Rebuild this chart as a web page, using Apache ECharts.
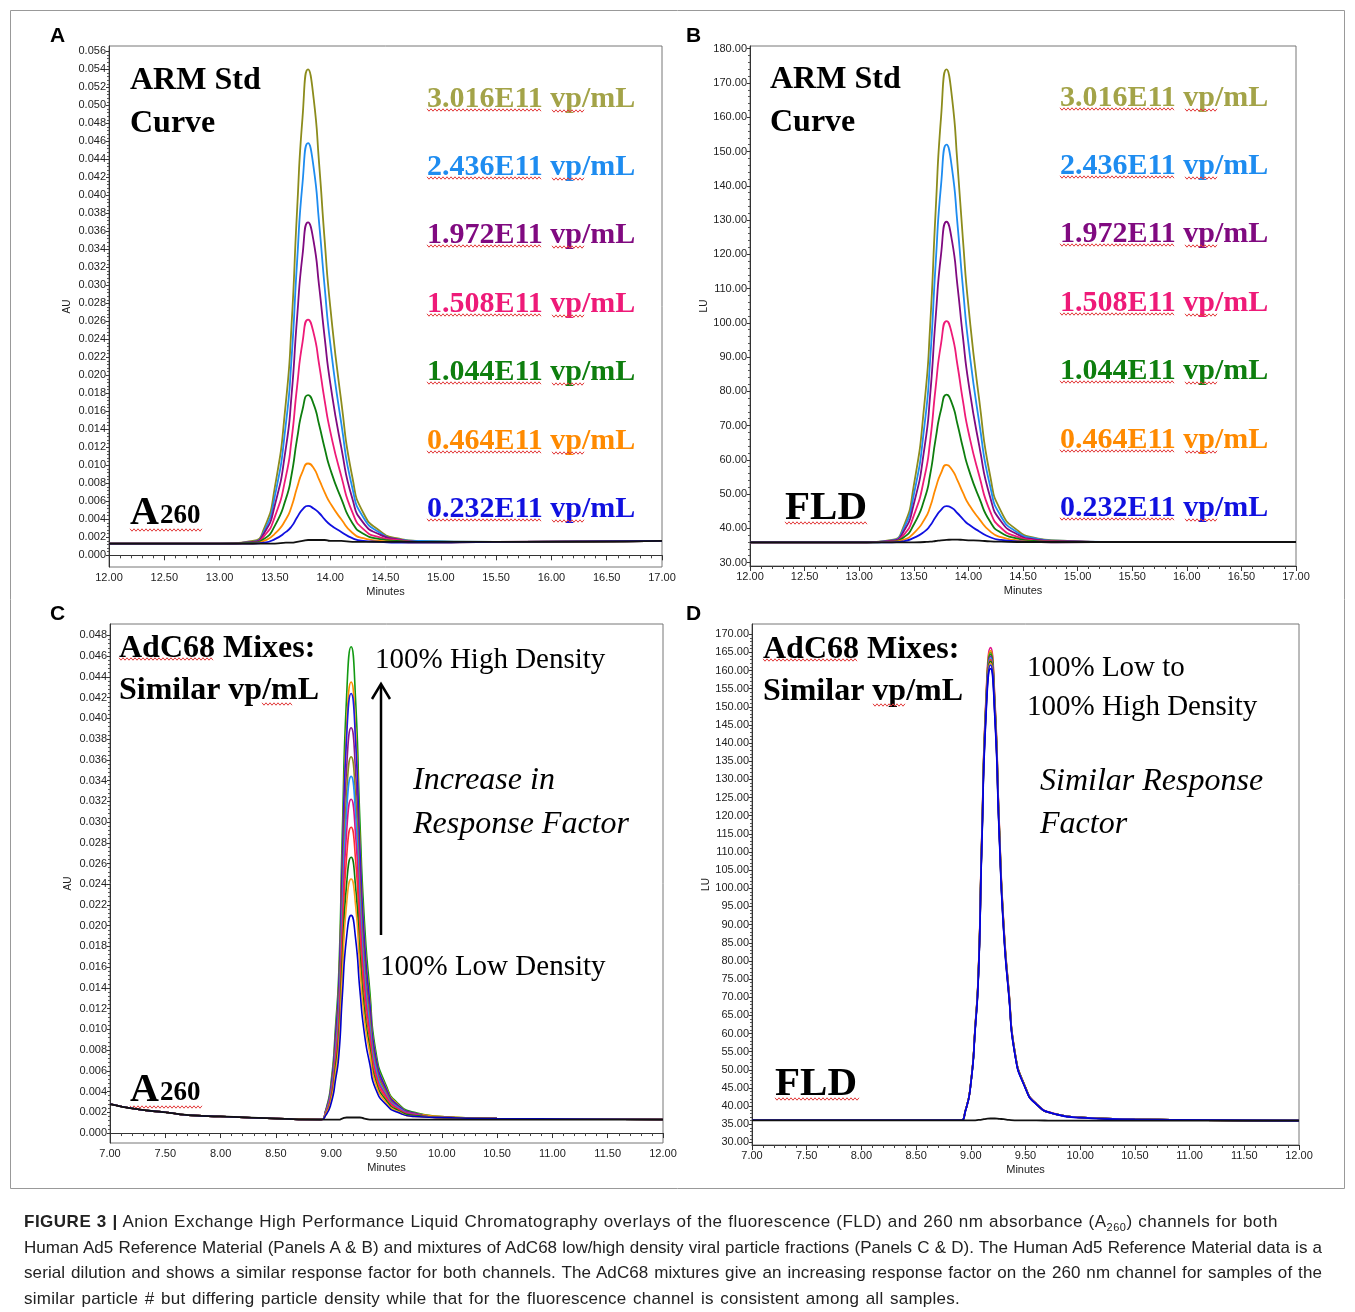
<!doctype html>
<html>
<head>
<meta charset="utf-8">
<title>Figure 3</title>
<script src="https://cdn.jsdelivr.net/npm/echarts@6/dist/echarts.min.js"></script>
<style>
  body { margin: 0; background: #fff; }
  #wrap { position: relative; width: 1355px; height: 1312px; }
  #chart { position: absolute; left: 0; top: 0; width: 1355px; height: 1312px; }
  #caption { position: absolute; left: 24px; top: 1209px; font-family: "Liberation Sans", Arial, sans-serif;
             font-size: 17px; line-height: 25.6px; color: #222; }
  #caption div { white-space: nowrap; text-align: justify; text-align-last: justify; height: 25.6px; }
  #caption sub { font-size: 11px; line-height: 0; vertical-align: baseline; position: relative; top: 4px; }
</style>
</head>
<body>
<div id="wrap">
  <div id="chart"></div>
  <div id="caption">
    <div style="width:1254px;letter-spacing:0.5px"><b>FIGURE 3 |</b> Anion Exchange High Performance Liquid Chromatography overlays of the fluorescence (FLD) and 260 nm absorbance (A<sub>260</sub>) channels for both</div>
    <div style="width:1298px;letter-spacing:0px">Human Ad5 Reference Material (Panels A &amp; B) and mixtures of AdC68 low/high density viral particle fractions (Panels C &amp; D). The Human Ad5 Reference Material data is a</div>
    <div style="width:1298px;letter-spacing:0.1px">serial dilution and shows a similar response factor for both channels. The AdC68 mixtures give an increasing response factor on the 260 nm channel for samples of the</div>
    <div style="width:936px;letter-spacing:0.25px">similar particle # but differing particle density while that for the fluorescence channel is consistent among all samples.</div>
  </div>
</div>
<script>
// ---- panel A / B : ARM standard curve (retention time in minutes) ----
var tA = [12.00, 13.00, 13.30, 13.40, 13.50, 13.60, 13.65, 13.70, 13.75, 13.80, 13.85,
          13.90, 13.95, 14.00, 14.10, 14.20, 14.30, 14.45, 14.60, 14.80, 15.50, 17.00];

var A_olive  = [.0013,.0013,.0016,.0029,.0076,.0171,.0255,.0382,.0487,.0540,.0508,.0435,.0350,.0277,.0171,.0087,.0047,.0027,.0019,.0016,.0015,.0016];
var A_lblue  = [.0013,.0013,.0015,.0026,.0066,.0147,.0218,.0325,.0414,.0458,.0431,.0369,.0298,.0236,.0147,.0075,.0042,.0025,.0018,.0016,.0015,.0016];
var A_purple = [.0013,.0013,.0015,.0024,.0056,.0120,.0177,.0263,.0334,.0370,.0349,.0299,.0242,.0192,.0120,.0063,.0036,.0023,.0018,.0015,.0015,.0016];
var A_pink   = [.0013,.0013,.0014,.0021,.0043,.0088,.0128,.0187,.0237,.0262,.0247,.0212,.0172,.0138,.0088,.0048,.0029,.0020,.0017,.0015,.0015,.0016];
var A_green  = [.0013,.0013,.0014,.0018,.0033,.0063,.0089,.0129,.0162,.0178,.0168,.0145,.0119,.0096,.0063,.0036,.0024,.0018,.0016,.0015,.0015,.0016];
var A_orange = [.0013,.0013,.0013,.0016,.0024,.0040,.0054,.0075,.0093,.0102,.0097,.0084,.0070,.0058,.0040,.0025,.0019,.0016,.0015,.0014,.0015,.0016];
var A_blue   = [.0013,.0013,.0013,.0014,.0018,.0026,.0032,.0042,.0051,.0055,.0052,.0047,.0040,.0034,.0026,.0019,.0016,.0015,.0014,.0014,.0015,.0016];
var A_black  = [.0013,.0013,.0013,.0013,.0013,.0014,.0014,.0015,.0016,.0017,.0017,.0017,.0017,.0016,.0016,.0015,.0015,.0015,.0015,.0015,.0015,.0016];

var B_olive  = [35.9,35.9,36.6,40.0,52.5,77.3,99.4,132.6,160.2,174.0,165.7,146.4,124.3,105.0,77.3,55.2,44.9,39.4,37.3,36.5,36.0,36.0];
var B_lblue  = [35.9,35.9,36.5,39.4,49.8,70.7,89.3,117.2,140.4,152.0,145.0,128.8,110.2,94.0,70.7,52.2,43.4,38.8,37.1,36.4,36.0,36.0];
var B_purple = [35.9,35.9,36.4,38.7,47.1,64.0,79.0,101.4,120.1,129.5,123.9,110.8,95.8,82.7,64.0,49.0,42.0,38.2,36.8,36.3,36.0,36.0];
var B_pink   = [35.9,35.9,36.2,37.8,43.7,55.3,65.6,81.1,94.0,100.5,96.6,87.6,77.2,68.2,55.3,44.9,40.1,37.5,36.5,36.2,36.0,36.0];
var B_green  = [35.9,35.9,36.1,37.2,41.1,48.8,55.7,66.1,74.7,79.0,76.4,70.4,63.5,57.5,48.8,41.9,38.7,37.0,36.3,36.1,36.0,36.0];
var B_orange = [35.9,35.9,36.0,36.6,38.6,42.7,46.3,51.7,56.2,58.5,57.1,54.0,50.4,47.2,42.7,39.1,37.4,36.5,36.0,35.9,36.0,36.0];
var B_blue   = [35.9,35.9,35.9,36.2,37.2,39.1,40.8,43.3,45.4,46.5,45.9,44.4,42.7,41.2,39.1,37.4,36.6,36.2,36.0,35.9,36.0,36.0];
var B_black  = [35.9,35.9,35.9,35.9,35.9,36.0,36.1,36.3,36.5,36.6,36.7,36.7,36.6,36.5,36.4,36.2,36.1,36.0,36.0,36.0,36.0,36.0];

var stdLabels = ['3.016E11 vp/mL', '2.436E11 vp/mL', '1.972E11 vp/mL', '1.508E11 vp/mL',
                 '1.044E11 vp/mL', '0.464E11 vp/mL', '0.232E11 vp/mL'];
var stdColors = ['#8c8c1c', '#1e8cf0', '#800a80', '#ee1a78', '#0e7e0e', '#ff8a00', '#1010e0'];
var stdLabelColors = ['#a3a348', '#1e8cf0', '#800a80', '#ee1a78', '#0e7e0e', '#ff8a00', '#1010e0'];

// ---- panel C / D : AdC68 mixes ----
var tC = [7.00, 7.25, 7.50, 7.75, 8.00, 8.50, 8.90, 8.95, 9.00, 9.04, 9.07, 9.10, 9.14,
          9.18, 9.22, 9.26, 9.30, 9.35, 9.40, 9.50, 9.60, 9.75, 10.00, 10.50, 12.00];

var C_1  = [.0028,.0023,.0020,.0017,.0016,.0014,.0013,.0022,.0050,.0104,.0159,.0287,.0423,.0469,.0419,.0300,.0205,.0136,.0081,.0045,.0029,.0020,.0016,.0014,.0013];
var C_2  = [.0028,.0023,.0020,.0017,.0016,.0014,.0013,.0021,.0047,.0097,.0148,.0266,.0393,.0435,.0389,.0279,.0190,.0127,.0076,.0043,.0028,.0019,.0016,.0014,.0013];
var C_3  = [.0028,.0023,.0020,.0017,.0016,.0014,.0013,.0021,.0046,.0095,.0145,.0260,.0383,.0424,.0379,.0272,.0186,.0124,.0075,.0042,.0027,.0019,.0015,.0014,.0013];
var C_4  = [.0028,.0023,.0020,.0017,.0016,.0014,.0013,.0021,.0043,.0089,.0134,.0240,.0353,.0391,.0349,.0251,.0172,.0115,.0070,.0040,.0026,.0019,.0015,.0014,.0013];
var C_5  = [.0028,.0023,.0020,.0017,.0016,.0014,.0013,.0020,.0041,.0083,.0125,.0223,.0328,.0363,.0325,.0234,.0160,.0108,.0066,.0038,.0025,.0018,.0015,.0014,.0013];
var C_6  = [.0028,.0023,.0020,.0017,.0016,.0014,.0013,.0020,.0040,.0079,.0119,.0212,.0311,.0344,.0308,.0222,.0152,.0102,.0063,.0036,.0025,.0018,.0015,.0014,.0013];
var C_7  = [.0028,.0023,.0020,.0017,.0016,.0014,.0013,.0019,.0038,.0075,.0112,.0198,.0291,.0322,.0288,.0208,.0143,.0096,.0059,.0035,.0024,.0018,.0015,.0014,.0013];
var C_8  = [.0028,.0023,.0020,.0017,.0016,.0014,.0013,.0019,.0036,.0069,.0103,.0182,.0267,.0295,.0264,.0191,.0131,.0089,.0055,.0033,.0023,.0017,.0015,.0014,.0013];
var C_9  = [.0028,.0023,.0020,.0017,.0016,.0014,.0013,.0018,.0033,.0064,.0094,.0165,.0241,.0266,.0238,.0172,.0119,.0081,.0051,.0031,.0022,.0017,.0015,.0014,.0013];
var C_10 = [.0028,.0023,.0020,.0017,.0016,.0014,.0013,.0018,.0032,.0059,.0087,.0152,.0222,.0245,.0220,.0159,.0110,.0076,.0048,.0029,.0021,.0016,.0015,.0014,.0013];
var C_11 = [.0028,.0023,.0020,.0017,.0016,.0014,.0013,.0017,.0029,.0052,.0076,.0131,.0190,.0210,.0188,.0137,.0096,.0066,.0043,.0027,.0020,.0016,.0015,.0014,.0013];
var C_black = [.0028,.0023,.0020,.0017,.0016,.0014,.0013,.0013,.0013,.0013,.0013,.0014,.0015,.0015,.0015,.0015,.0014,.0013,.0013,.0013,.0013,.0013,.0013,.0013,.0013];

var D_1  = [36.1,36.1,36.1,36.1,36.1,36.1,36.1,38.7,46.5,62.1,77.8,114.2,153.3,166.3,152.0,118.1,90.8,71.3,55.6,45.2,40.7,38.1,36.9,36.4,36.0];
var D_2  = [36.1,36.1,36.1,36.1,36.1,36.1,36.1,38.7,46.5,62.0,77.5,113.7,152.6,165.5,151.3,117.6,90.4,71.0,55.5,45.2,40.6,38.0,36.9,36.4,36.0];
var D_3  = [36.1,36.1,36.1,36.1,36.1,36.1,36.1,38.7,46.4,61.9,77.3,113.4,152.1,165.0,150.8,117.3,90.2,70.9,55.4,45.1,40.6,38.0,36.9,36.4,36.0];
var D_4  = [36.1,36.1,36.1,36.1,36.1,36.1,36.1,38.7,46.4,61.8,77.2,113.1,151.7,164.5,150.4,117.0,90.0,70.8,55.4,45.1,40.6,38.0,36.9,36.4,36.0];
var D_5  = [36.1,36.1,36.1,36.1,36.1,36.1,36.1,38.7,46.3,61.7,77.0,112.8,151.2,164.0,149.9,116.7,89.8,70.6,55.3,45.1,40.6,38.0,36.9,36.4,36.0];
var D_6  = [36.1,36.1,36.1,36.1,36.1,36.1,36.1,38.6,46.3,61.6,76.9,112.5,150.8,163.5,149.5,116.4,89.6,70.5,55.2,45.0,40.6,38.0,36.9,36.4,36.0];
var D_7  = [36.1,36.1,36.1,36.1,36.1,36.1,36.1,38.6,46.3,61.5,76.7,112.2,150.3,163.0,149.0,116.0,89.4,70.4,55.1,45.0,40.5,38.0,36.9,36.4,36.0];
var D_8  = [36.1,36.1,36.1,36.1,36.1,36.1,36.1,38.6,46.2,61.4,76.5,111.9,149.9,162.5,148.6,115.7,89.2,70.2,55.1,45.0,40.5,38.0,36.9,36.4,36.0];
var D_9  = [36.1,36.1,36.1,36.1,36.1,36.1,36.1,38.6,46.2,61.3,76.4,111.6,149.4,162.0,148.1,115.4,89.0,70.1,55.0,44.9,40.5,38.0,36.9,36.4,36.0];
var D_10 = [36.1,36.1,36.1,36.1,36.1,36.1,36.1,38.6,46.1,61.2,76.2,111.3,149.0,161.5,147.7,115.1,88.8,70.0,54.9,44.9,40.5,38.0,36.9,36.4,36.0];
var D_11 = [36.1,36.1,36.1,36.1,36.1,36.1,36.1,38.6,46.1,61.0,75.9,110.7,148.1,160.5,146.8,114.5,88.4,69.7,54.8,44.8,40.5,38.0,36.8,36.3,36.0];
var D_black = [36.1,36.1,36.1,36.1,36.1,36.1,36.1,36.1,36.1,36.1,36.2,36.3,36.5,36.6,36.6,36.5,36.4,36.2,36.1,36.1,36.1,36.0,36.0,36.0,36.0];

var mixColorsC = ['#129a12', '#ff8c00', '#1a1ae6', '#8b1a8b', '#8c8c1c', '#1e90ff',
                  '#d4148c', '#ff3030', '#0b7a0b', '#ff9f1a', '#0000cc'];
var mixColorsD = ['#e0168c', '#ff8c00', '#8c8c1c', '#129a12', '#8b1a8b', '#1e90ff',
                  '#ff3030', '#0b7a0b', '#ff9f1a', '#1a1ae6', '#0000dd'];

// tick labels
var yTicksA = [0, 0.002, 0.004, 0.006, 0.008, 0.010, 0.012, 0.014, 0.016, 0.018, 0.020, 0.022, 0.024, 0.026,
               0.028, 0.030, 0.032, 0.034, 0.036, 0.038, 0.040, 0.042, 0.044, 0.046, 0.048, 0.050, 0.052, 0.054, 0.056];
var yTicksB = [30, 40, 50, 60, 70, 80, 90, 100, 110, 120, 130, 140, 150, 160, 170, 180];
var yTicksC = [0, 0.002, 0.004, 0.006, 0.008, 0.010, 0.012, 0.014, 0.016, 0.018, 0.020, 0.022, 0.024,
               0.026, 0.028, 0.030, 0.032, 0.034, 0.036, 0.038, 0.040, 0.042, 0.044, 0.046, 0.048];
var yTicksD = [30, 35, 40, 45, 50, 55, 60, 65, 70, 75, 80, 85, 90, 95, 100, 105, 110, 115, 120,
               125, 130, 135, 140, 145, 150, 155, 160, 165, 170];

var myChart = echarts.init(document.getElementById('chart'), null, {renderer: 'canvas'});

var tickFont = 'Liberation Sans';
var serif = '"Liberation Serif", "DejaVu Serif", serif';

// minor ticks between the major labels
function minorTicks(list, parts) {
    var out = [];
    var step = (list[1] - list[0]) / parts;
    for (var i = 0; i < list.length - 1; i++) {
        for (var k = 1; k < parts; k++) out.push(list[i] + step * k);
    }
    return out;
}

var grids = [
    {left: 109, top: 46, width: 553, height: 521},
    {left: 750, top: 46, width: 546, height: 520},
    {left: 110, top: 624, width: 553, height: 519},
    {left: 752, top: 624, width: 547, height: 521}
];
grids.forEach(function (g) { g.show = true; g.borderColor = '#777'; g.borderWidth = 1; });

function xAxisFor(gi, min, max) {
    return {
        gridIndex: gi, type: 'value', min: min, max: max, interval: 0.5,
        axisLine: {lineStyle: {color: '#333'}},
        axisTick: {length: 5, lineStyle: {color: '#333'}},
        minorTick: {show: true, splitNumber: 5, length: 3, lineStyle: {color: '#444'}},
        splitLine: {show: false}, minorSplitLine: {show: false},
        axisLabel: {formatter: function (v) { return v.toFixed(2); }, fontSize: 11, color: '#222',
                    fontFamily: tickFont, margin: 5},
        name: 'Minutes', nameLocation: 'middle', nameGap: 19,
        nameTextStyle: {fontSize: 11, color: '#222', fontFamily: tickFont}
    };
}
function yAxisFor(gi, min, max, ticks, digits, name) {
    return {
        gridIndex: gi, type: 'value', min: min, max: max, position: 'left',
        axisLine: {show: true, lineStyle: {color: '#333'}},
        axisTick: {show: true, customValues: ticks, length: 3, lineStyle: {color: '#333'}},
        axisLabel: {customValues: ticks, formatter: function (v) { return v.toFixed(digits); },
                    fontSize: 11, color: '#222', fontFamily: tickFont, margin: 3},
        splitLine: {show: false},
        name: name, nameLocation: 'middle', nameGap: digits === 3 ? 37 : 41, nameRotate: 90,
        nameTextStyle: {fontSize: 10, color: '#222', fontFamily: tickFont}
    };
}
function yMinorFor(gi, min, max, ticks, parts) {
    return {
        gridIndex: gi, type: 'value', min: min, max: max, position: 'left',
        axisLine: {show: false}, axisLabel: {show: false}, splitLine: {show: false},
        axisTick: {show: true, customValues: minorTicks(ticks, parts), length: 2, lineStyle: {color: '#555'}}
    };
}

var xAxes = [xAxisFor(0, 12, 17), xAxisFor(1, 12, 17), xAxisFor(2, 7, 12), xAxisFor(3, 7, 12)];
var yAxes = [
    yAxisFor(0, -0.0013, 0.0566, yTicksA, 3, 'AU'), yMinorFor(0, -0.0013, 0.0566, yTicksA, 5),
    yAxisFor(1, 29.0, 180.8, yTicksB, 2, 'LU'),     yMinorFor(1, 29.0, 180.8, yTicksB, 5),
    yAxisFor(2, -0.00096, 0.0491, yTicksC, 3, 'AU'), yMinorFor(2, -0.00096, 0.0491, yTicksC, 5),
    yAxisFor(3, 29.3, 172.8, yTicksD, 2, 'LU'),     yMinorFor(3, 29.3, 172.8, yTicksD, 5)
];

var series = [];
function addLine(panel, times, vals, color, width) {
    series.push({
        type: 'line', xAxisIndex: panel, yAxisIndex: panel * 2,
        data: times.map(function (t, i) { return [t, vals[i]]; }),
        showSymbol: false, smooth: 0.6, silent: true,
        lineStyle: {color: color, width: width || 1.8}
    });
}
[A_olive, A_lblue, A_purple, A_pink, A_green, A_orange, A_blue].forEach(function (a, i) { addLine(0, tA, a, stdColors[i]); });
addLine(0, tA, A_black, '#111');
[B_olive, B_lblue, B_purple, B_pink, B_green, B_orange, B_blue].forEach(function (a, i) { addLine(1, tA, a, stdColors[i]); });
addLine(1, tA, B_black, '#111');
[C_1, C_2, C_3, C_4, C_5, C_6, C_7, C_8, C_9, C_10, C_11].forEach(function (a, i) { addLine(2, tC, a, mixColorsC[i], 1.6); });
addLine(2, tC, C_black, '#111');
[D_1, D_2, D_3, D_4, D_5, D_6, D_7, D_8, D_9, D_10, D_11].forEach(function (a, i) { addLine(3, tC, a, mixColorsD[i], 1.6); });
addLine(3, tC, D_black, '#111');

// annotation texts
function txt(text, x, y, font, fill, va) {
    return {type: 'text', silent: true, style: {text: text, x: x, y: va ? y : y + 3, font: font, fill: fill || '#000',
            align: 'left', verticalAlign: va || 'middle'}};
}
function squiggle(x0, x1, y) {
    var pts = [];
    for (var x = x0, k = 0; x <= x1; x += 2, k++) pts.push([x, y + (k % 2 ? 1.2 : -1.2)]);
    return {type: 'polyline', silent: true, shape: {points: pts}, style: {stroke: '#e23a3a', lineWidth: 1, fill: null}};
}

var bold32 = 'bold 32px ' + serif;
var label30 = 'bold 30px ' + serif;
var reg29 = '29px ' + serif;
var ital32 = 'italic 32px ' + serif;
var panelFont = 'bold 21px "Liberation Sans", Arial, sans-serif';

var graphics = [
    {type: 'rect', silent: true, shape: {x: 10.5, y: 10.5, width: 1334, height: 1178},
     style: {fill: null, stroke: '#999', lineWidth: 1}},
    txt('A', 50, 33, panelFont), txt('B', 686, 33, panelFont),
    txt('C', 50, 611, panelFont), txt('D', 686, 611, panelFont),
    // panel A
    txt('ARM Std', 130, 78, bold32), txt('Curve', 130, 121, bold32),
    txt('A', 130, 534, 'bold 40px ' + serif, '#000', 'bottom'),
    txt('260', 160, 530, 'bold 27px ' + serif, '#000', 'bottom'),
    squiggle(130, 203, 530),
    // panel B
    txt('ARM Std', 770, 77, bold32), txt('Curve', 770, 120, bold32),
    txt('FLD', 785, 505, 'bold 41px ' + serif), squiggle(785, 868, 523),
    // panel C
    txt('AdC68 Mixes:', 119, 646, bold32), txt('Similar vp/mL', 119, 688, bold32),
    squiggle(119, 213, 659), squiggle(262, 293, 704),
    txt('100% High Density', 375, 657, reg29),
    txt('Increase in', 413, 778, ital32), txt('Response Factor', 413, 822, ital32),
    txt('100% Low Density', 380, 964, reg29),
    {type: 'line', silent: true, shape: {x1: 381, y1: 935, x2: 381, y2: 685}, style: {stroke: '#000', lineWidth: 2.5}},
    {type: 'polyline', silent: true, shape: {points: [[372, 699], [381, 684], [390, 699]]},
     style: {stroke: '#000', lineWidth: 2.5, fill: null}},
    txt('A', 130, 1111, 'bold 40px ' + serif, '#000', 'bottom'),
    txt('260', 160, 1107, 'bold 27px ' + serif, '#000', 'bottom'),
    squiggle(130, 203, 1107),
    // panel D
    txt('AdC68 Mixes:', 763, 647, bold32), txt('Similar vp/mL', 763, 689, bold32),
    squiggle(763, 858, 660), squiggle(873, 905, 705),
    txt('100% Low to', 1027, 665, reg29), txt('100% High Density', 1027, 704, reg29),
    txt('Similar Response', 1040, 779, ital32), txt('Factor', 1040, 822, ital32),
    txt('FLD', 775, 1081, 'bold 41px ' + serif), squiggle(775, 860, 1099)
];
var rowsA = [96, 164, 232, 301, 369, 438, 506];
var rowsB = [95, 163, 231, 300, 368, 437, 505];
stdLabels.forEach(function (s, i) {
    graphics.push(txt(s, 427, rowsA[i], label30, stdLabelColors[i]));
    graphics.push(squiggle(427, 542, rowsA[i] + 14), squiggle(552, 585, rowsA[i] + 15));
    graphics.push(txt(s, 1060, rowsB[i], label30, stdLabelColors[i]));
    graphics.push(squiggle(1060, 1175, rowsB[i] + 14), squiggle(1185, 1218, rowsB[i] + 15));
});

var option = {
    animation: false,
    backgroundColor: '#fff',
    grid: grids,
    xAxis: xAxes,
    yAxis: yAxes,
    series: series,
    graphic: graphics
};
myChart.setOption(option);
</script>
</body>
</html>
